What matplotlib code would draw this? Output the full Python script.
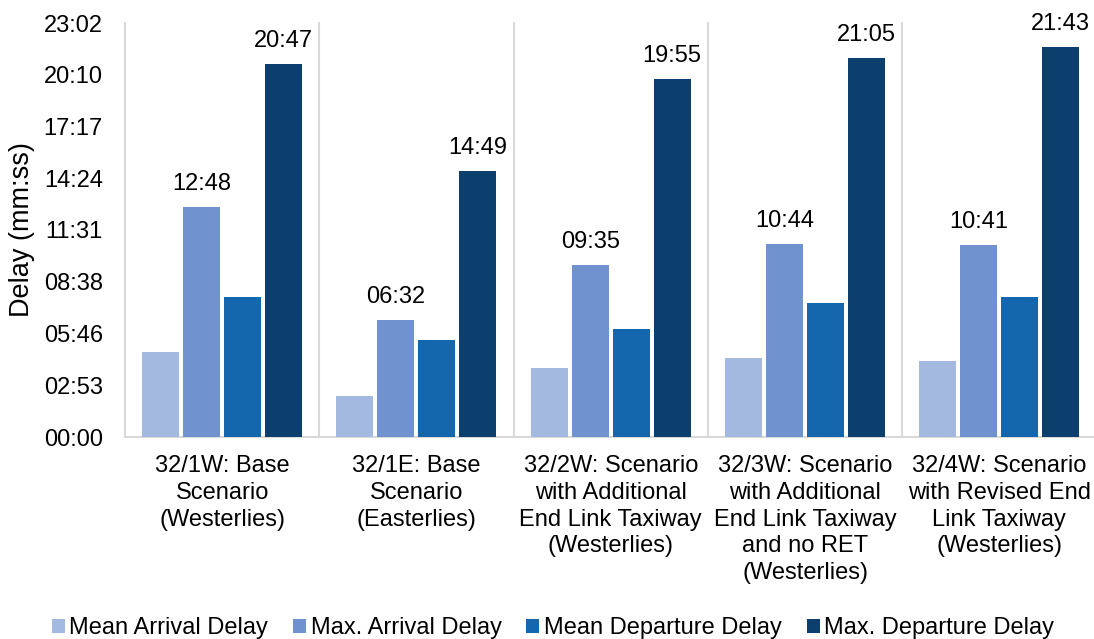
import matplotlib
matplotlib.use("Agg")
import matplotlib.pyplot as plt
from matplotlib.ticker import FixedLocator, FuncFormatter

plt.rcParams["font.family"] = ["Liberation Sans", "DejaVu Sans"]

scenarios = [
    "32/1W: Base\nScenario\n(Westerlies)",
    "32/1E: Base\nScenario\n(Easterlies)",
    "32/2W: Scenario\nwith Additional\nEnd Link Taxiway\n(Westerlies)",
    "32/3W: Scenario\nwith Additional\nEnd Link Taxiway\nand no RET\n(Westerlies)",
    "32/4W: Scenario\nwith Revised End\nLink Taxiway\n(Westerlies)",
]
mean_arrival = ["04:44", "02:17", "03:49", "04:23", "04:13"]
max_arrival = ["12:48", "06:32", "09:35", "10:44", "10:41"]
mean_departure = ["07:48", "05:24", "06:02", "07:27", "07:49"]
max_departure = ["20:47", "14:49", "19:55", "21:05", "21:43"]

series_names = ["Mean Arrival Delay", "Max. Arrival Delay",
                "Mean Departure Delay", "Max. Departure Delay"]
series_colors = ["#A3B9E0", "#7093D0", "#1467AD", "#0D3F6E"]
labelled = [False, True, False, True]


def to_sec(s):
    m, sec = s.split(":")
    return int(m) * 60 + int(sec)


def mmss(v, _pos=None):
    v = int(round(v))
    return f"{v // 60:02d}:{v % 60:02d}"


FS = 17
W, H = 1094, 639
fig = plt.figure(figsize=(W / 100, H / 100), dpi=100)
ax = fig.add_axes([125 / W, (H - 437) / H, 971.5 / W, 414 / H])

pitch = 0.211
width = 0.190
ymax = 1382.4  # 0.016 day
for k, (vals, name, col, lab) in enumerate(
        zip([mean_arrival, max_arrival, mean_departure, max_departure],
            series_names, series_colors, labelled)):
    secs = [to_sec(v) for v in vals]
    xs = [i + (k - 1.5) * pitch for i in range(len(secs))]
    ax.bar(xs, secs, width=width, color=col, label=name, zorder=3)
    if lab:
        for x, s, txt in zip(xs, secs, vals):
            ax.annotate(txt, (x, s), xytext=(0, 12), textcoords="offset points",
                        ha="center", va="baseline", fontsize=FS, color="black")

# separators between scenario groups
for b in [i - 0.5 for i in range(len(scenarios) + 1)]:
    ax.plot([b, b], [0, ymax], color="#D9D9D9", lw=1.5, zorder=1, clip_on=False)

ax.set_xlim(-0.5, len(scenarios) - 0.5)
ax.set_ylim(0, ymax)
ax.yaxis.set_major_locator(FixedLocator([172.8 * k for k in range(9)]))
ax.yaxis.set_major_formatter(FuncFormatter(mmss))
ax.set_xticks(range(len(scenarios)))
ax.set_xticklabels(scenarios, fontsize=FS, linespacing=1.28)
ax.tick_params(axis="x", length=0, pad=13)
ax.tick_params(axis="y", length=0, pad=16, labelsize=FS)
for sp in ["top", "right", "left"]:
    ax.spines[sp].set_visible(False)
ax.spines["bottom"].set_color("#D9D9D9")
ax.spines["bottom"].set_linewidth(1.5)
ax.set_ylabel("Delay (mm:ss)", fontsize=19.5, labelpad=6)

fig.legend(loc="lower center", bbox_to_anchor=(0.5055, 0.0), ncol=4,
           frameon=False, fontsize=FS, handlelength=0.55, handleheight=0.55,
           handletextpad=0.2, columnspacing=1.05, borderpad=0.0, borderaxespad=0.0)

fig.savefig("out.png", dpi=100)
